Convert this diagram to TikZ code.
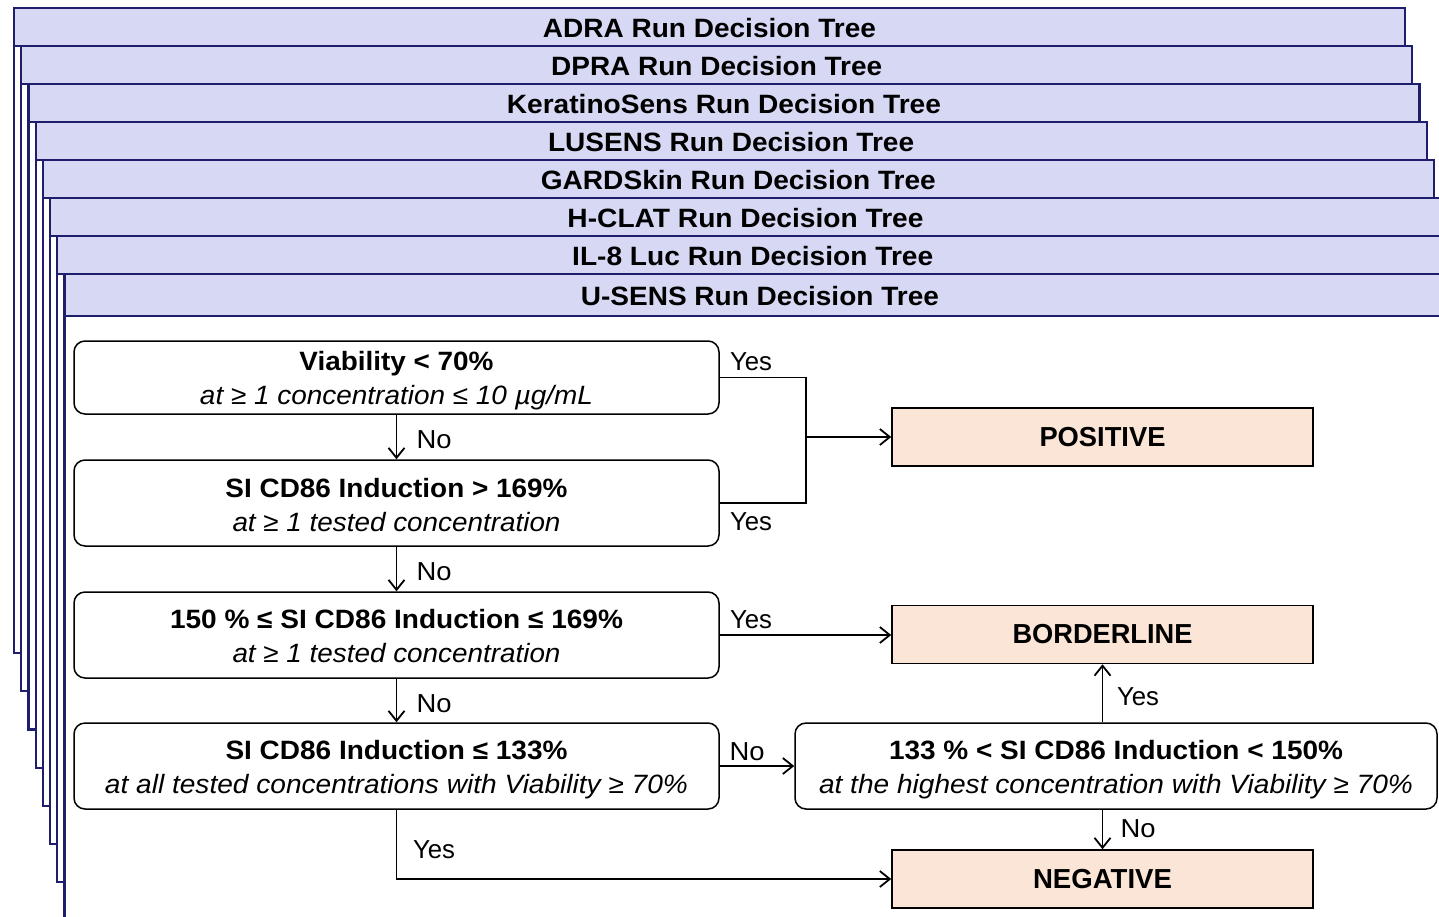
\documentclass[tikz,border=0pt]{standalone}
\usepackage{fontspec}
\setmainfont{Liberation Sans}
\usepackage{graphicx}
\usetikzlibrary{arrows.meta}
\definecolor{cardedge}{RGB}{31,30,108}
\definecolor{cardfill}{RGB}{214,216,244}
\definecolor{resfill}{RGB}{251,229,214}
% set a line of text to a given width, keeping its height
\newcommand\fitw[2]{\resizebox{#1pt}{\height}{#2}}
\begin{document}
\begin{tikzpicture}[x=1pt,y=-1pt,
  cardline/.style={draw=cardedge,line width=2.2pt},
  hdrtext/.style={font={\fontsize{26.5}{30}\selectfont\bfseries},inner sep=0pt},
  cond/.style={draw=black,line width=1.5pt,rounded corners=11pt,fill=white,
    minimum width=645pt,minimum height=86pt,inner sep=0pt},
  condtext/.style={inner sep=0pt,align=center,font={\fontsize{26.5}{34}\selectfont}},
  result/.style={draw=black,line width=1.5pt,fill=resfill,minimum width=421pt,
    minimum height=58pt,inner sep=0pt,font={\fontsize{27.5}{30}\selectfont\bfseries}},
  link/.style={draw=black,line width=1.8pt},
  flow/.style={link,-{Straight Barb[length=10pt,width=16pt,line width=1.8pt]}},
  tag/.style={font={\fontsize{26}{28}\selectfont},inner sep=0pt}
]
\useasboundingbox (0,0) rectangle (1439,916);
\clip (0,0) rectangle (1439,916);

% stacked run cards, each one slightly offset from the one below
\foreach \i/\ttl/\tw in {0/ADRA Run Decision Tree/333,
    1/DPRA Run Decision Tree/331,
    2/KeratinoSens Run Decision Tree/434,
    3/LUSENS Run Decision Tree/366,
    4/GARDSkin Run Decision Tree/395,
    5/H-CLAT Run Decision Tree/356,
    6/IL-8 Luc Run Decision Tree/361,
    7/U-SENS Run Decision Tree/358}{
  \pgfmathsetmacro\cl{14+7.2*\i}
  \pgfmathsetmacro\cr{1405+7.2*\i}
  \pgfmathsetmacro\ct{8+38*\i}
  \pgfmathsetmacro\ch{\i==7 ? 316 : 46+38*\i}
  \pgfmathsetmacro\cb{\i==7 ? 960 : 653+38.2*\i}
  \pgfmathsetmacro\cx{(\cl+\cr)/2}
  \pgfmathsetmacro\cy{(\ct+\ch)/2+1}
  \filldraw[cardline,fill=white] (\cl,\ct) rectangle (\cr,\cb);
  \filldraw[cardline,fill=cardfill] (\cl,\ct) rectangle (\cr,\ch);
  \node[hdrtext] (head\i) at (\cx,\cy) {\fitw{\tw}{\ttl}};
}

% decision steps (frame, then its two text lines)
\node[cond,minimum height=73pt] (viab) at (396.5,377.5) {};
\node[condtext] (viabtext) at ([yshift=-3.5pt]viab.center)
  {\fitw{194}{\bfseries Viability < 70\%}\\\fitw{393}{\itshape at ≥ 1 concentration ≤ 10 µg/mL}};
\node[cond] (high) at (396.5,503) {};
\node[condtext] (hightext) at ([yshift=-2pt]high.center)
  {\fitw{342}{\bfseries SI CD86 Induction > 169\%}\\\fitw{328}{\itshape at ≥ 1 tested concentration}};
\node[cond] (mid) at (396.5,635) {};
\node[condtext] (midtext) at ([yshift=-1.5pt]mid.center)
  {\fitw{453}{\bfseries 150 \% ≤ SI CD86 Induction ≤ 169\%}\\\fitw{328}{\itshape at ≥ 1 tested concentration}};
\node[cond] (low) at (396.5,766) {};
\node[condtext] (lowtext) at ([yshift=-3.5pt]low.center)
  {\fitw{342}{\bfseries SI CD86 Induction ≤ 133\%}\\\fitw{583}{\itshape at all tested concentrations with Viability ≥ 70\%}};
\node[cond,minimum width=642pt] (top) at (1116,766) {};
\node[condtext] (toptext) at ([yshift=-3.5pt]top.center)
  {\fitw{454}{\bfseries 133 \% < SI CD86 Induction < 150\%}\\\fitw{594}{\itshape at the highest concentration with Viability ≥ 70\%}};

% outcomes
\node[result] (pos) at (1102.5,437) {\fitw{126}{POSITIVE}};
\node[result] (bord) at (1102.5,634.5) {\fitw{180}{BORDERLINE}};
\node[result] (neg) at (1102.5,879) {\fitw{139}{NEGATIVE}};

% connectors
\coordinate (join) at (806,437);
\draw[link] (viab.east) -| (join) |- (high.east);
\draw[flow] (join) -- (pos.west);
\draw[flow] (viab) -- (high);
\draw[flow] (high) -- (mid);
\draw[flow] (mid) -- (low);
\draw[flow] (mid.east) -- (mid.east -| bord.west);
\draw[flow] (low.east) -- (top.west);
\draw[flow] (top.north -| bord.south) -- (bord.south);
\draw[flow] (top.south -| neg.north) -- (neg.north);
\draw[flow] (low.south) |- (neg.west);

% branch labels
\node[tag] (ya) at (751,362) {\fitw{42}{Yes}};
\node[tag] (yb) at (751,522) {\fitw{42}{Yes}};
\node[tag] (na) at (434,440) {\fitw{35}{No}};
\node[tag] (nb) at (434,572) {\fitw{35}{No}};
\node[tag] (nc) at (434,704) {\fitw{35}{No}};
\node[tag] (yc) at (751,620) {\fitw{42}{Yes}};
\node[tag] (nd) at (747,752) {\fitw{35}{No}};
\node[tag] (yd) at (1138,697) {\fitw{42}{Yes}};
\node[tag] (ne) at (1138,829) {\fitw{35}{No}};
\node[tag] (ye) at (434,850) {\fitw{42}{Yes}};
\end{tikzpicture}
\end{document}
